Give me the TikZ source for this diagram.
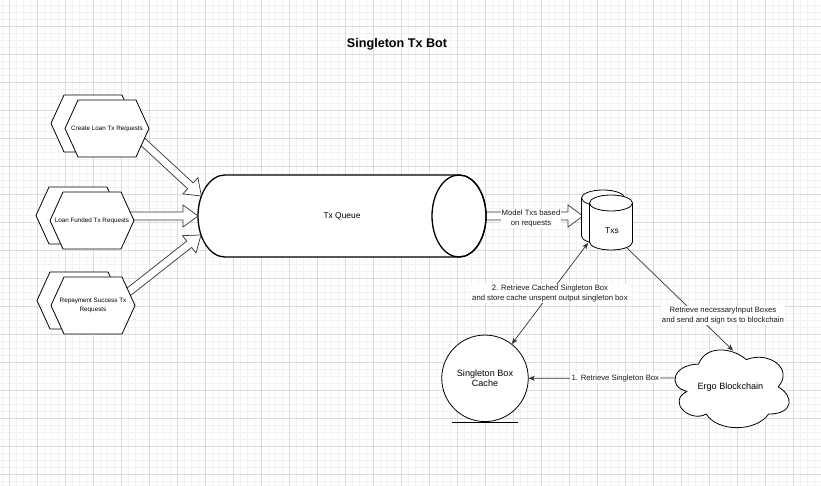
\documentclass[tikz,border=0pt]{standalone}
\usepackage{fontspec}
\setmainfont{Liberation Sans}
\usetikzlibrary{calc,arrows.meta}
\tikzset{
  minorgrid/.style={draw=black!5, line width=0.6pt},
  majorgrid/.style={draw=black!14, line width=0.7pt},
  shapeline/.style={draw=black, fill=white, line width=0.8pt, line join=round},
  queueline/.style={draw=black, fill=white, line width=1.3pt},
  blockarr/.style={draw=black!80, fill=white, line width=0.7pt, line join=miter},
  conn/.style={draw=black!80, line width=0.7pt},
  >={Stealth[length=6pt,width=5pt,inset=1.5pt]},
  lbl/.style={fill=white, inner sep=1pt, align=center, text=black!90, font=\fontsize{7.7}{9.8}\selectfont},
  hextext/.style={inner sep=0pt, align=center, font=\fontsize{6.3}{8.3}\selectfont},
  bigtext/.style={inner sep=0pt, align=center, font=\fontsize{9.1}{10.5}\selectfont},
  midtext/.style={inner sep=0pt, align=center, font=\fontsize{8.4}{10}\selectfont},
}
\newcommand\dblhex[4]{%
  \begin{scope}[shift={(#2,#3)}]
    \filldraw[shapeline] (-56,-5) -- (-43,-33.5) -- (15,-33.5) -- (28,-5) -- (15,23.5) -- (-43,23.5) -- cycle;
    \filldraw[shapeline] (-42,0) -- (-29,-28.5) -- (29,-28.5) -- (42,0) -- (29,28.5) -- (-29,28.5) -- cycle;
    \node[hextext] (#1) at (0,0) {#4};
  \end{scope}}
\newcommand\vcyl[4]{%
  \filldraw[shapeline] ({#1-#4},#2) -- ({#1-#4},#3) arc[start angle=180,end angle=0,x radius=#4,y radius=8]
     -- ({#1+#4},#2) arc[start angle=0,end angle=-180,x radius=#4,y radius=8] -- cycle;
  \draw[shapeline, fill=none] ({#1-#4},#2) arc[start angle=180,end angle=0,x radius=#4,y radius=8];}
\newcommand\blockarrow[3]{%
  \coordinate (#3hb) at ($(#2)!15pt!(#1)$);
  \filldraw[blockarr] ($(#1)!4pt!90:(#2)$) -- ($(#3hb)!4pt!-90:(#1)$) -- ($(#3hb)!11pt!-90:(#1)$) -- (#2)
     -- ($(#3hb)!11pt!90:(#1)$) -- ($(#3hb)!4pt!90:(#1)$) -- ($(#1)!4pt!-90:(#2)$) -- cycle;}
\begin{document}
\begin{tikzpicture}[x=1pt,y=-1pt]
\useasboundingbox (0,0) rectangle (821,486);
\fill[white] (0,0) rectangle (821,486);
% grid
\foreach \i in {0,...,117} \draw[minorgrid] ({2.33+7*\i},0) -- ({2.33+7*\i},486);
\foreach \j in {0,...,69} \draw[minorgrid] (0,{5+7*\j}) -- (821,{5+7*\j});
\foreach \i in {0,...,29} \draw[majorgrid] ({9.33+28*\i},0) -- ({9.33+28*\i},486);
\foreach \j in {0,...,17} \draw[majorgrid] (0,{-2+28*\j}) -- (821,{-2+28*\j});

% title
\node[font=\fontsize{12.6}{14}\selectfont\bfseries] (title) at (397,44) {Singleton Tx Bot};

% coordinates for block arrows
\coordinate (qS) at (478,216);
\coordinate (txsT) at (583,216);
\coordinate (clS) at (139,138.3);
\coordinate (qT1) at (201.4,196);
\coordinate (lfS) at (126,216);
\coordinate (qT2) at (198,216);
\coordinate (rpS) at (126,294);
\coordinate (qT3) at (201,235);

% queue -> txs block arrow
\blockarrow{qS}{txsT}{a4}

% Tx Queue cylinder
\filldraw[queueline] (459,175) -- (225,175) arc[start angle=270, end angle=90, x radius=27, y radius=41]
  -- (459,257) arc[start angle=90, end angle=-90, x radius=27, y radius=41] -- cycle;
\draw[queueline, fill=none] (459,216) ellipse[x radius=27, y radius=41];
\node[midtext] (queue) at (342,216) {Tx Queue};

% block arrows into queue
\blockarrow{clS}{qT1}{a1}
\blockarrow{lfS}{qT2}{a2}
\blockarrow{rpS}{qT3}{a3}

% request hexagons
\dblhex{cl}{107}{128.5}{Create Loan Tx Requests}
\dblhex{lf}{92}{220.5}{Loan Funded Tx Requests}
\dblhex{rp}{93}{305.5}{Repayment Success Tx\\Requests}

% Txs double cylinder
\vcyl{603}{198}{236}{21.5}
\vcyl{611}{203}{242}{21.5}
\node[midtext] (txs) at (612,231) {Txs};

\node[lbl] (modellbl) at (531,218.5) {Model Txs based\\on requests};

% Singleton box cache
\node[draw, circle, fill=white, line width=0.8pt, minimum size=86.5pt, inner sep=0pt, align=center,
      font=\fontsize{9.1}{10.5}\selectfont] (cache) at (485,378.3) {Singleton Box\\Cache};
\draw[line width=0.8pt] (452,422) -- (518,422);

% Ergo cloud
\begin{scope}[shift={(666.7,341.5)}, x=127.4pt, y=-90.7pt]
\filldraw[shapeline] (0.25,0.25) .. controls (0.05,0.25) and (0,0.5) .. (0.16,0.55)
  .. controls (0,0.66) and (0.18,0.9) .. (0.31,0.8)
  .. controls (0.4,1) and (0.7,1) .. (0.8,0.8)
  .. controls (1,0.8) and (1,0.6) .. (0.875,0.5)
  .. controls (1,0.3) and (0.8,0.1) .. (0.625,0.2)
  .. controls (0.5,0.05) and (0.3,0.05) .. (0.25,0.25) -- cycle;
\end{scope}
\node[bigtext] (ergo) at (730.4,387.5) {Ergo Blockchain};

% connectors
\coordinate (txsBL) at (588,243);
\coordinate (txsBR) at (627,248);
\coordinate (ergoW) at (675.5,378);
\coordinate (ergoN) at (733,350.5);
\draw[conn, ->] (ergoW) -- node[lbl, pos=0.41] {1. Retrieve Singleton Box} (cache.east);
\draw[conn, <->] (txsBL) -- node[lbl, midway] {2. Retrieve Cached Singleton Box\\and store cache unspent output singleton box} (cache.52);
\draw[conn, ->] (txsBR) -- node[lbl, pos=0.66, xshift=26pt] {Retrieve necessaryInput Boxes\\and send and sign txs to blockchain} (ergoN);
\end{tikzpicture}
\end{document}
